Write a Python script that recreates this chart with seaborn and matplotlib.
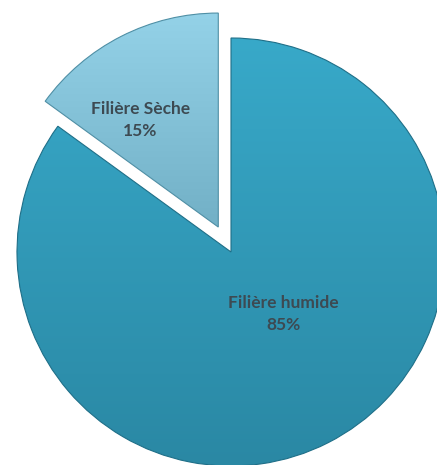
import numpy as np
import seaborn as sns
import matplotlib.pyplot as plt
from matplotlib.colors import LinearSegmentedColormap

# Data
labels = ["Filière humide", "Filière Sèche"]
shares = [85, 15]

# Colours (top -> bottom of each slice)
grad_colors = [("#38a9c9", "#2a88a4"), ("#94d2e8", "#72b0c6")]
edge_colors = ["#1f6f88", "#4f8fa5"]

sns.set_theme(style="white")
plt.rcParams['font.family'] = ['Lato', 'DejaVu Sans']

fig = plt.figure(figsize=(4.37, 4.65), dpi=100)
ax = fig.add_axes([0, 0, 1, 1])

R = 214
# explode is in data units here (pie radius is in pixels-like units)
wedges, texts = ax.pie(
    shares, startangle=90, counterclock=False,
    explode=[0, 28], radius=R, center=(231, 213),
    colors=[c[0] for c in grad_colors],
    wedgeprops=dict(linewidth=0.8),
    frame=True,
)
ax.set_xlim(0, 437)
ax.set_ylim(0, 465)
ax.set_aspect('equal')
ax.axis('off')

# vertical gradient fill clipped to each wedge
for w, (top, bot), ec in zip(wedges, grad_colors, edge_colors):
    w.set_edgecolor(ec)
    cmap = LinearSegmentedColormap.from_list("g", [bot, top])
    x0, y0, x1, y1 = w.get_window_extent().transformed(ax.transData.inverted()).extents
    grad = np.linspace(0, 1, 256).reshape(-1, 1)
    im = ax.imshow(grad, cmap=cmap, extent=[x0, x1, y0, y1], origin='lower',
                   aspect='auto', zorder=w.get_zorder() + 0.1)
    im.set_clip_path(w)
    w.set_facecolor('none')
    w.set_zorder(w.get_zorder() + 0.2)
ax.set_xlim(0, 437)
ax.set_ylim(0, 465)

# labels inside slices
label_r = [0.38, 0.62]
label_shift = [13, 9]  # degrees from slice mid angle
for w, lab, s, r, sh in zip(wedges, labels, shares, label_r, label_shift):
    ang = np.deg2rad((w.theta1 + w.theta2) / 2 + sh)
    cx, cy = w.center
    ax.text(cx + r * R * np.cos(ang), cy + r * R * np.sin(ang),
            f"{lab}\n{s}%", ha='center', va='center', fontsize=12.5,
            fontweight='bold', color='#3d4a52', linespacing=1.45, zorder=10)

plt.savefig('out.png', dpi=100)
